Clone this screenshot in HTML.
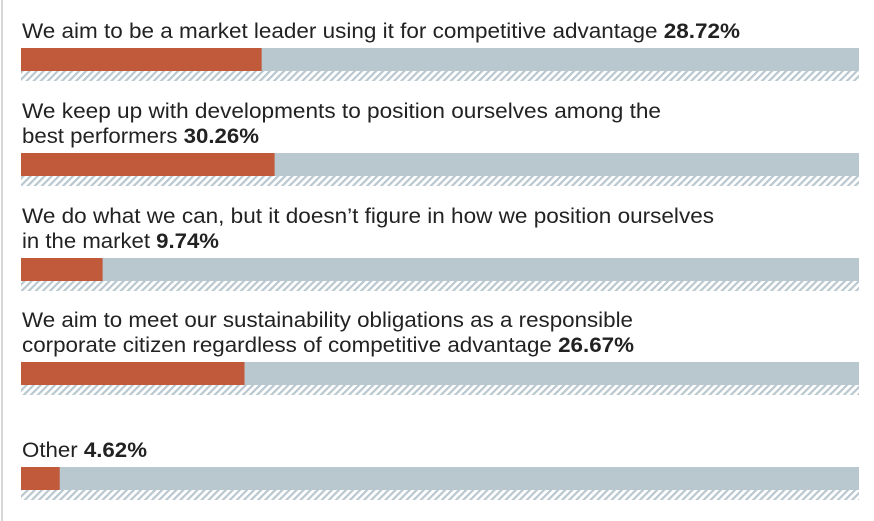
<!DOCTYPE html>
<html><head><meta charset="utf-8"><style>
html,body{margin:0;padding:0;background:#fff;}
svg{display:block;font-family:"Liberation Sans",sans-serif;}
</style></head><body>
<svg id="chart" width="874" height="521" viewBox="0 0 874 521" xmlns="http://www.w3.org/2000/svg">
<defs>
<pattern id="hatch" patternUnits="userSpaceOnUse" width="5" height="5" patternTransform="rotate(45)">
<rect width="5" height="5" fill="#fff"/>
<rect width="2.2" height="5" fill="#b9c7cf"/>
</pattern>
</defs>
<line x1="2" y1="0" x2="2" y2="521" stroke="#c8c8c8" stroke-width="1.5"/>
<g id="bars"></g>
</svg>
<script>
const labelLines = [
  ["We aim to be a market leader using it for competitive advantage"],
  ["We keep up with developments to position ourselves among the","best performers"],
  ["We do what we can, but it doesn\u2019t figure in how we position ourselves","in the market"],
  ["We aim to meet our sustainability obligations as a responsible","corporate citizen regardless of competitive advantage"],
  ["Other"]
];
const values = [28.72, 30.26, 9.74, 26.67, 4.62];
const valueLabels = ["28.72%","30.26%","9.74%","26.67%","4.62%"];
const barTops = [48,153,258,362,467];
const lineWidths = [[718],[639,237],[692,197],[611,612],[125]];

const NS="http://www.w3.org/2000/svg";
const g=document.getElementById('bars');
const x0=21, x1=859, barH=23, hatchH=10;
function xScale(v){return x0+(x1-x0)*v/100;}
values.forEach((v,i)=>{
  const top=barTops[i];
  const lines=labelLines[i];
  const n=lines.length;
  lines.forEach((ln,j)=>{
    const t=document.createElementNS(NS,'text');
    
    
    t.setAttribute('x',22);
    t.setAttribute('y',top-10-(n-1-j)*25);
    t.setAttribute('font-size','21');
    t.setAttribute('fill','#222');
    t.setAttribute('textLength',lineWidths[i][j]);
    t.setAttribute('lengthAdjust','spacingAndGlyphs');
    t.appendChild(document.createTextNode(ln+(j===n-1?' ':'')));
    if(j===n-1){
      const b=document.createElementNS(NS,'tspan');
      b.setAttribute('font-weight','bold');
      b.textContent=valueLabels[i];
      t.appendChild(b);
    }
    g.appendChild(t);
  });
  const bg=document.createElementNS(NS,'rect');
  
  
  bg.setAttribute('x',x0);bg.setAttribute('y',top);
  bg.setAttribute('width',x1-x0);bg.setAttribute('height',barH);
  bg.setAttribute('fill','#b9c7cf');
  g.appendChild(bg);
  const h=document.createElementNS(NS,'rect');
  
  
  h.setAttribute('x',x0);h.setAttribute('y',top+barH);
  h.setAttribute('width',x1-x0);h.setAttribute('height',hatchH);
  h.setAttribute('fill','url(#hatch)');
  g.appendChild(h);
  const f=document.createElementNS(NS,'rect');
  
  
  f.setAttribute('x',x0);f.setAttribute('y',top);
  f.setAttribute('width',xScale(v)-x0);f.setAttribute('height',barH);
  f.setAttribute('fill','#c15a3b');
  g.appendChild(f);
});
</script>
</body></html>
